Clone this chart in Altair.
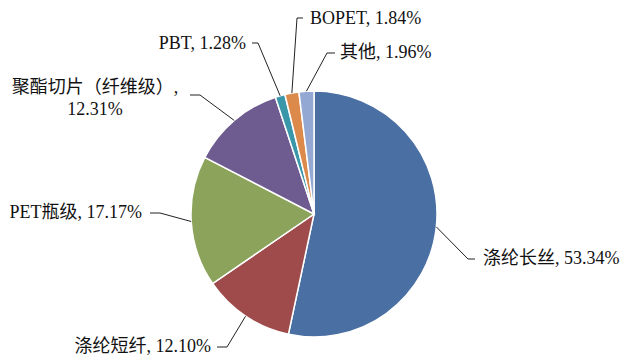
import math
import altair as alt
import pandas as pd

# ---- data ----
categories = ["涤纶长丝", "涤纶短纤", "PET瓶级", "聚酯切片（纤维级）", "PBT", "BOPET", "其他"]
values = [53.34, 12.10, 17.17, 12.31, 1.28, 1.84, 1.96]
label_texts = ["涤纶长丝, 53.34%", "涤纶短纤, 12.10%", "PET瓶级, 17.17%",
               "聚酯切片（纤维级）,\n12.31%", "PBT, 1.28%", "BOPET, 1.84%", "其他, 1.96%"]

# ---- style / layout ----
colors = ["#4A6FA3", "#A04B4B", "#8BA35B", "#6E5B90", "#3A97AA", "#DB8A4C", "#93A8D2"]
W, H = 612, 350
CX, CY, R = 306, 206, 123
# elbow point, line end point, text anchor, alignment
elbows = [(460, 251), (219, 339), (152, 205), (192, 87), (250, 35), (289, 10), (319, 45)]
ends = [(467, 251), (209, 339), (142, 205), (182, 87), (244, 35), (295, 10), (327, 45)]
text_pos = [(475, 251), (203, 339), (134, 205), (87, 80), (238, 36), (302, 11), (332, 45)]
aligns = ["left", "right", "right", "center", "right", "left", "left"]

FONT = "Liberation Serif, Times New Roman, Noto Sans CJK SC"

pie_df = pd.DataFrame({"cat": categories, "value": values, "order": list(range(len(values)))})

# leader lines: start at the pie edge at each slice's mid angle
total = sum(values)
rows = []
cum = 0.0
for i, v in enumerate(values):
    mid = (cum + v / 2) / total * 2 * math.pi
    cum += v
    sx = CX + R * math.sin(mid)
    sy = CY - R * math.cos(mid)
    pts = [(sx, sy), elbows[i], ends[i]]
    for k, (px, py) in enumerate(pts):
        rows.append({"cat": categories[i], "k": k, "x": px, "y": py})
line_df = pd.DataFrame(rows)

text_df = pd.DataFrame({
    "label": label_texts,
    "x": [p[0] for p in text_pos],
    "y": [p[1] for p in text_pos],
    "align": aligns,
})

xs = alt.Scale(domain=[0, W], range=[0, W])
ys = alt.Scale(domain=[0, H], range=[0, H])

pie = alt.Chart(pie_df).mark_arc(outerRadius=R, stroke="white", strokeWidth=1.5).encode(
    theta=alt.Theta("value:Q", stack=True),
    color=alt.Color("cat:N", scale=alt.Scale(domain=categories, range=colors), legend=None),
    order=alt.Order("order:Q"),
    x=alt.value(CX),
    y=alt.value(CY),
)

lines = alt.Chart(line_df).mark_line(color="#222222", strokeWidth=1).encode(
    x=alt.X("x:Q", scale=xs, axis=None),
    y=alt.Y("y:Q", scale=ys, axis=None),
    detail="cat:N",
    order="k:Q",
)

layers = [pie, lines]
for al in ["left", "right", "center"]:
    layers.append(
        alt.Chart(text_df).transform_filter(alt.datum.align == al).mark_text(
            align=al, baseline="middle", font=FONT, fontSize=18, color="#111111",
            lineBreak="\n", lineHeight=22,
        ).encode(
            x=alt.X("x:Q", scale=xs, axis=None),
            y=alt.Y("y:Q", scale=ys, axis=None),
            text="label:N",
        )
    )

chart = alt.layer(*layers).properties(
    width=W, height=H, padding=0, autosize="none"
).configure_view(stroke=None)

chart.save("out.html", embed_options={"renderer": "svg", "actions": False})
